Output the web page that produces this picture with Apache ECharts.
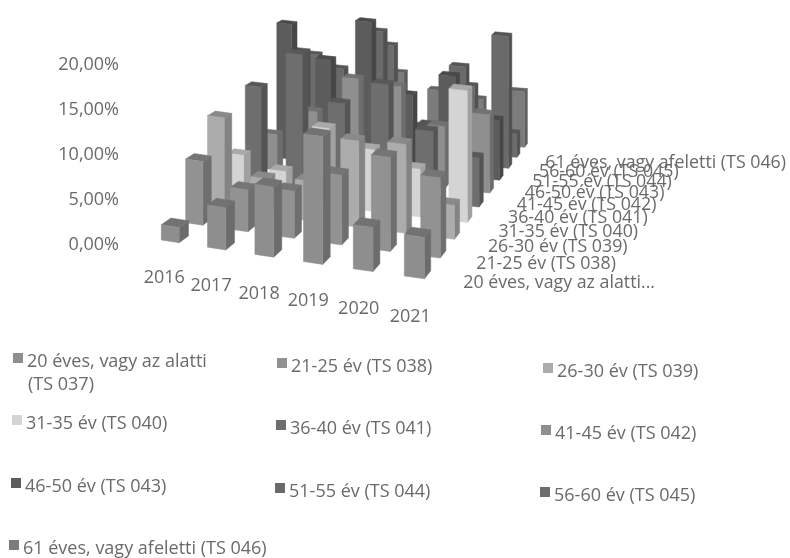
<!DOCTYPE html>
<html><head><meta charset="utf-8">
<style>html,body{margin:0;padding:0;background:#fff}#c{width:790px;height:558px}</style>
<script src="https://cdn.jsdelivr.net/npm/echarts@6/dist/echarts.min.js"></script>
</head><body><div id="c"></div>
<script>
const years = ['2016','2017','2018','2019','2020','2021'];
const groups = ['20 éves, vagy az alatti (TS 037)','21-25 év (TS 038)','26-30 év (TS 039)','31-35 év (TS 040)','36-40 év (TS 041)','41-45 év (TS 042)','46-50 év (TS 043)','51-55 év (TS 044)','56-60 év (TS 045)','61 éves, vagy afeletti (TS 046)'];
const depthLabels = ['20 éves, vagy az alatti...','21-25 év (TS 038)','26-30 év (TS 039)','31-35 év (TS 040)','36-40 év (TS 041)','41-45 év (TS 042)','46-50 év (TS 043)','51-55 év (TS 044)','56-60 év (TS 045)','61 éves, vagy afeletti (TS 046)'];
const ts037 = [1.7, 4.7, 7.8, 14.2, 4.9, 4.6];
const ts038 = [7.3, 4.8, 5.4, 8, 10.8, 9.2];
const ts039 = [10.8, 4.3, 4.7, 10.2, 10.5, 4];
const ts040 = [4.8, 3.5, 9.4, 7.5, 5.8, 16];
const ts041 = [11.8, 16.5, 11, 14, 8.8, 6.1];
const ts042 = [4.5, 8, 12.8, 12.4, 7.9, 10];
const ts043 = [17.6, 13.5, 19, 10, 13, 7.8];
const ts044 = [13, 11.2, 16.7, 4.5, 13, 17.6];
const ts045 = [11.6, 6, 13.8, 3.5, 9.2, 3.2];
const ts046 = [10, 5, 9, 7, 6.2, 7.7];
const rows = [ts037,ts038,ts039,ts040,ts041,ts042,ts043,ts044,ts045,ts046];
const colors = ['#8e8e8e','#929292','#acacac','#d4d4d4','#6e6e6e','#8f8f8f','#5c5c5c','#6a6a6a','#6c6c6c','#7c7c7c'];
const legendPos = [[13,353],[277,358],[543,363],[12,415],[276,420],[541,425],[11,478],[275,483],[540,487],[9,540]];
const FONT = '"Open Sans"', INK = '#6a6a6a';

const depthT = d => d * 1.5 / (9 + 0.5 * d);
function floorPt(api, i, d) {
  const o = api.coord([0, 0]);
  const t = depthT(d);
  const fx = o[0] - 9 + 45.6 * i + 0.6 * i * i;
  const fy = o[1] - 5 + 7.2 * i;
  return [fx + t * (154 - 10 * i), fy + t * (-110 - 4 * i)];
}
function shade(hex, k) {
  const n = parseInt(hex.slice(1), 16);
  const g = s => Math.round(((n >> s) & 255) * k);
  return 'rgb(' + g(16) + ',' + g(8) + ',' + g(0) + ')';
}
const chart = echarts.init(document.getElementById('c'), null, {renderer:'canvas'});
const W = 0.39, D = 0.38;
function barRender(dIdx) {
  return function (params, api) {
    const i = api.value(0), v = api.value(1);
    const col = colors[dIdx];
    const h = (api.coord([0,0])[1] - api.coord([0,v])[1]);
    const hAt = d => h * (1 - 0.2 * depthT(d));
    const up = (p, d) => [p[0], p[1] - hAt(d)];
    const a = floorPt(api,i,dIdx), b = floorPt(api,i+W,dIdx), c = floorPt(api,i+W,dIdx+D), e = floorPt(api,i,dIdx+D);
    const A=up(a,dIdx),B=up(b,dIdx),C=up(c,dIdx+D),E=up(e,dIdx+D);
    const poly = (pts,fill)=>({type:'polygon',shape:{points:pts},style:{fill,stroke:fill,lineWidth:0.5}});
    return {type:'group',children:[
      poly([b,c,C,B], shade(col,0.76)),
      poly([A,B,C,E], shade(col,0.8)),
      poly([a,b,B,A], col)
    ]};
  };
}
const barSeries = rows.map((r,d)=>({
  type:'custom', name:groups[d], coordinateSystem:'cartesian2d', z:20-d, silent:true,
  itemStyle:{color:colors[d]}, encode:{x:0,y:1}, clip:false,
  data:r.map((v,i)=>[i,v]), renderItem:barRender(d)
}));
const yearLabels = {
  type:'custom', coordinateSystem:'cartesian2d', z:30, silent:true, encode:{x:0,y:1},
  data:years.map((y,i)=>[i,0,y]),
  renderItem:(p,api)=>{ const k=api.value(0), f=floorPt(api,k,0);
    return {type:'text',x:f[0]+3+0.6*k,y:f[1]+38+0.5*k,style:{text:years[k],font:'18px '+FONT,fill:INK,align:'center',verticalAlign:'middle'}}; }
};
const depthSeries = {
  type:'custom', coordinateSystem:'cartesian2d', z:30, silent:true, encode:{x:0,y:1},
  data:depthLabels.map((n,d)=>[5,0,d]),
  renderItem:(p,api)=>{ const d=api.value(2), t=depthT(d), f=floorPt(api,5,d);
    return {type:'text',x:f[0]+59-22*t,y:f[1]+7+10*t,style:{text:depthLabels[d],font:'17.8px '+FONT,fill:INK,align:'left',verticalAlign:'middle'}}; }
};
const legends = groups.map((g,k)=>({
  data:[g], left:legendPos[k][0], top:legendPos[k][1], orient:'horizontal', padding:0,
  icon:'rect', itemWidth:10, itemHeight:10, itemGap:0, selectedMode:false,
  textStyle:{fontFamily:FONT,fontSize:18,color:INK,rich:{s:{fontFamily:FONT,fontSize:18,color:INK,padding:[8,0,0,-1]}}},
  formatter:n=>'{s|'+n.replace(' (TS 037)','')+'}'
}));
chart.setOption({
  animation:false, backgroundColor:'#fff',
  grid:{left:146,width:291.6,top:65,height:180,containLabel:false},
  xAxis:{type:'category',data:years,show:false},
  yAxis:{type:'value',min:0,max:20,interval:5,axisLine:{show:false},axisTick:{show:false},splitLine:{show:false},
    axisLabel:{margin:27,fontFamily:FONT,fontSize:18,color:INK,formatter:v=>v.toFixed(2).replace('.',',')+'%'}},
  legend:legends,
  graphic:[{type:'text',left:28,top:376,style:{text:'(TS 037)',font:'18px '+FONT,fill:INK}}],
  series:[...barSeries,yearLabels,depthSeries]
});
</script></body></html>
